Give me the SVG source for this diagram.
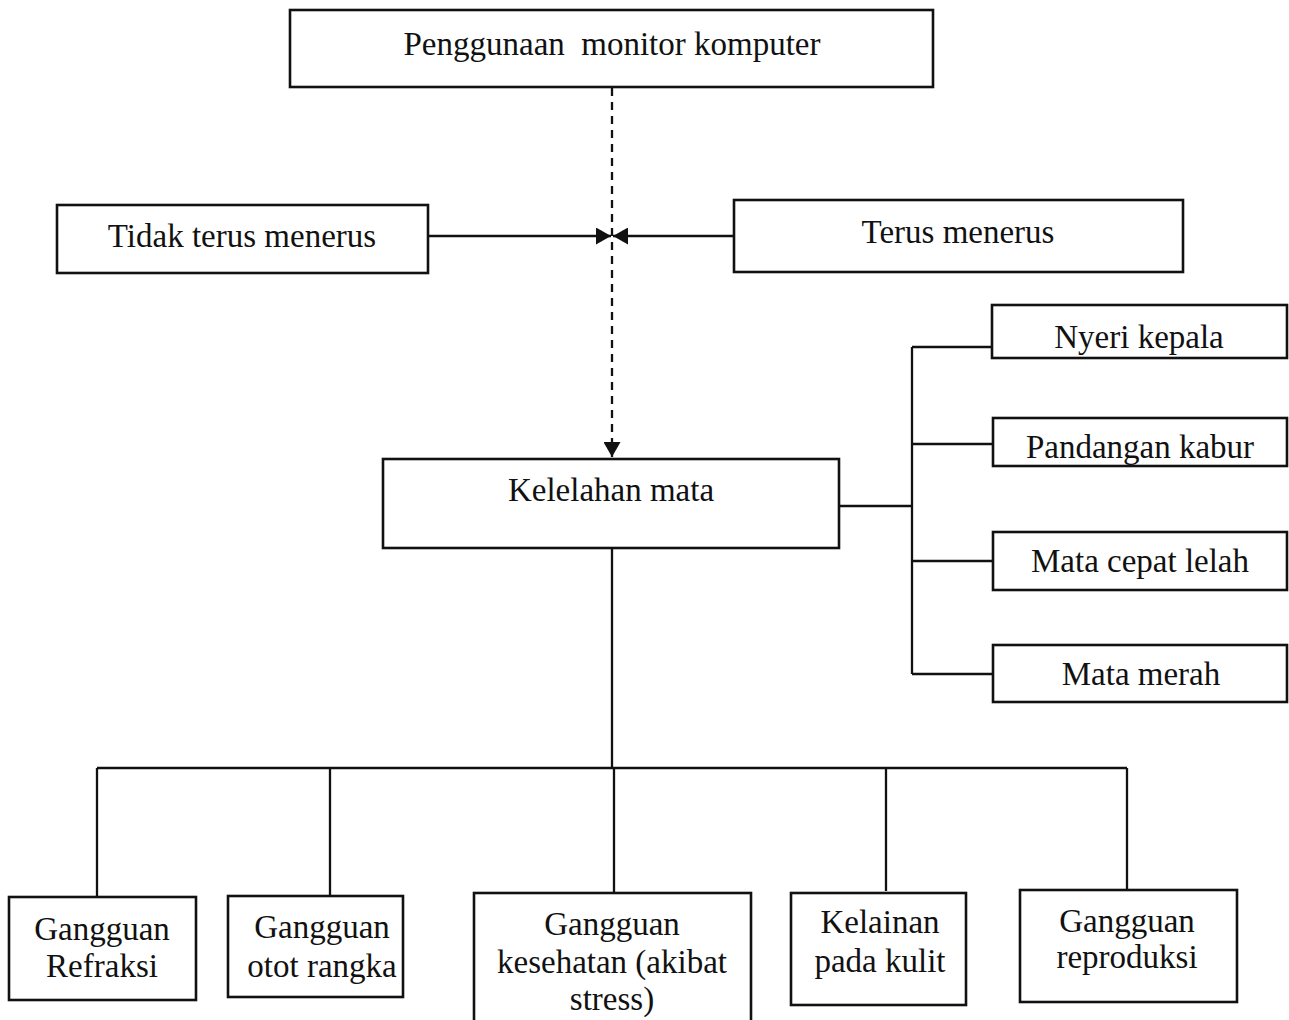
<svg xmlns="http://www.w3.org/2000/svg" width="1289" height="1020" viewBox="0 0 1289 1020">
<style>
.b{fill:#fff;stroke:#111;stroke-width:2.6}
.t{font-family:"Liberation Serif","Times New Roman",serif;font-size:33px;fill:#111;text-anchor:middle;white-space:pre}
.c{fill:none;stroke:#111;stroke-width:2.3}
</style>
<defs>
<marker id="ah" viewBox="0 0 10 10" refX="10" refY="5" markerWidth="15" markerHeight="17" markerUnits="userSpaceOnUse" orient="auto" preserveAspectRatio="none"><path d="M0,0L10,5L0,10z" fill="#111"/></marker>
</defs>
<rect width="1289" height="1020" fill="#fff"/>
<g id="connectors">
<path class="c" d="M612,88V457" stroke-dasharray="8,6" marker-end="url(#ah)"/>
<path class="c" d="M428,236H611" marker-end="url(#ah)"/>
<path class="c" d="M734,236H613" marker-end="url(#ah)"/>
<path class="c" d="M839,506H912M912,347V674M912,347H992M912,444H992M912,561H992M912,674H992"/>
<path class="c" d="M612,548V768M97,768H1127M97,768V897M330,768V896M614,768V893M886,768V891M1127,768V889"/>
</g>
<g id="n1"><rect class="b" x="290" y="10" width="643" height="77"/><text class="t" x="612" y="55" xml:space="preserve">Penggunaan  monitor komputer</text></g>
<g id="n2"><rect class="b" x="57" y="205" width="371" height="68"/><text class="t" x="242" y="247">Tidak terus menerus</text></g>
<g id="n3"><rect class="b" x="734" y="200" width="449" height="72"/><text class="t" x="958" y="243">Terus menerus</text></g>
<g id="n4"><rect class="b" x="383" y="459" width="456" height="89"/><text class="t" x="611" y="501">Kelelahan mata</text></g>
<g id="n5"><rect class="b" x="992" y="305" width="295" height="53"/><text class="t" x="1139" y="348">Nyeri kepala</text></g>
<g id="n6"><rect class="b" x="993" y="418" width="294" height="48"/><text class="t" x="1140" y="458">Pandangan kabur</text></g>
<g id="n7"><rect class="b" x="993" y="532" width="294" height="58"/><text class="t" x="1140" y="572">Mata cepat lelah</text></g>
<g id="n8"><rect class="b" x="993" y="645" width="294" height="57"/><text class="t" x="1141" y="685">Mata merah</text></g>
<g id="n9"><rect class="b" x="9" y="897" width="187" height="103"/><text class="t" x="102" y="940">Gangguan</text><text class="t" x="102" y="977">Refraksi</text></g>
<g id="n10"><rect class="b" x="228" y="896" width="175" height="101"/><text class="t" x="322" y="938">Gangguan</text><text class="t" x="322" y="977">otot rangka</text></g>
<g id="n11"><rect class="b" x="474" y="893" width="277" height="135"/><text class="t" x="612" y="935">Gangguan</text><text class="t" x="612" y="973">kesehatan (akibat</text><text class="t" x="612" y="1010">stress)</text></g>
<g id="n12"><rect class="b" x="791" y="893" width="175" height="112"/><text class="t" x="880" y="933">Kelainan</text><text class="t" x="880" y="972">pada kulit</text></g>
<g id="n13"><rect class="b" x="1020" y="890" width="217" height="112"/><text class="t" x="1127" y="932">Gangguan</text><text class="t" x="1127" y="968">reproduksi</text></g>
</svg>
